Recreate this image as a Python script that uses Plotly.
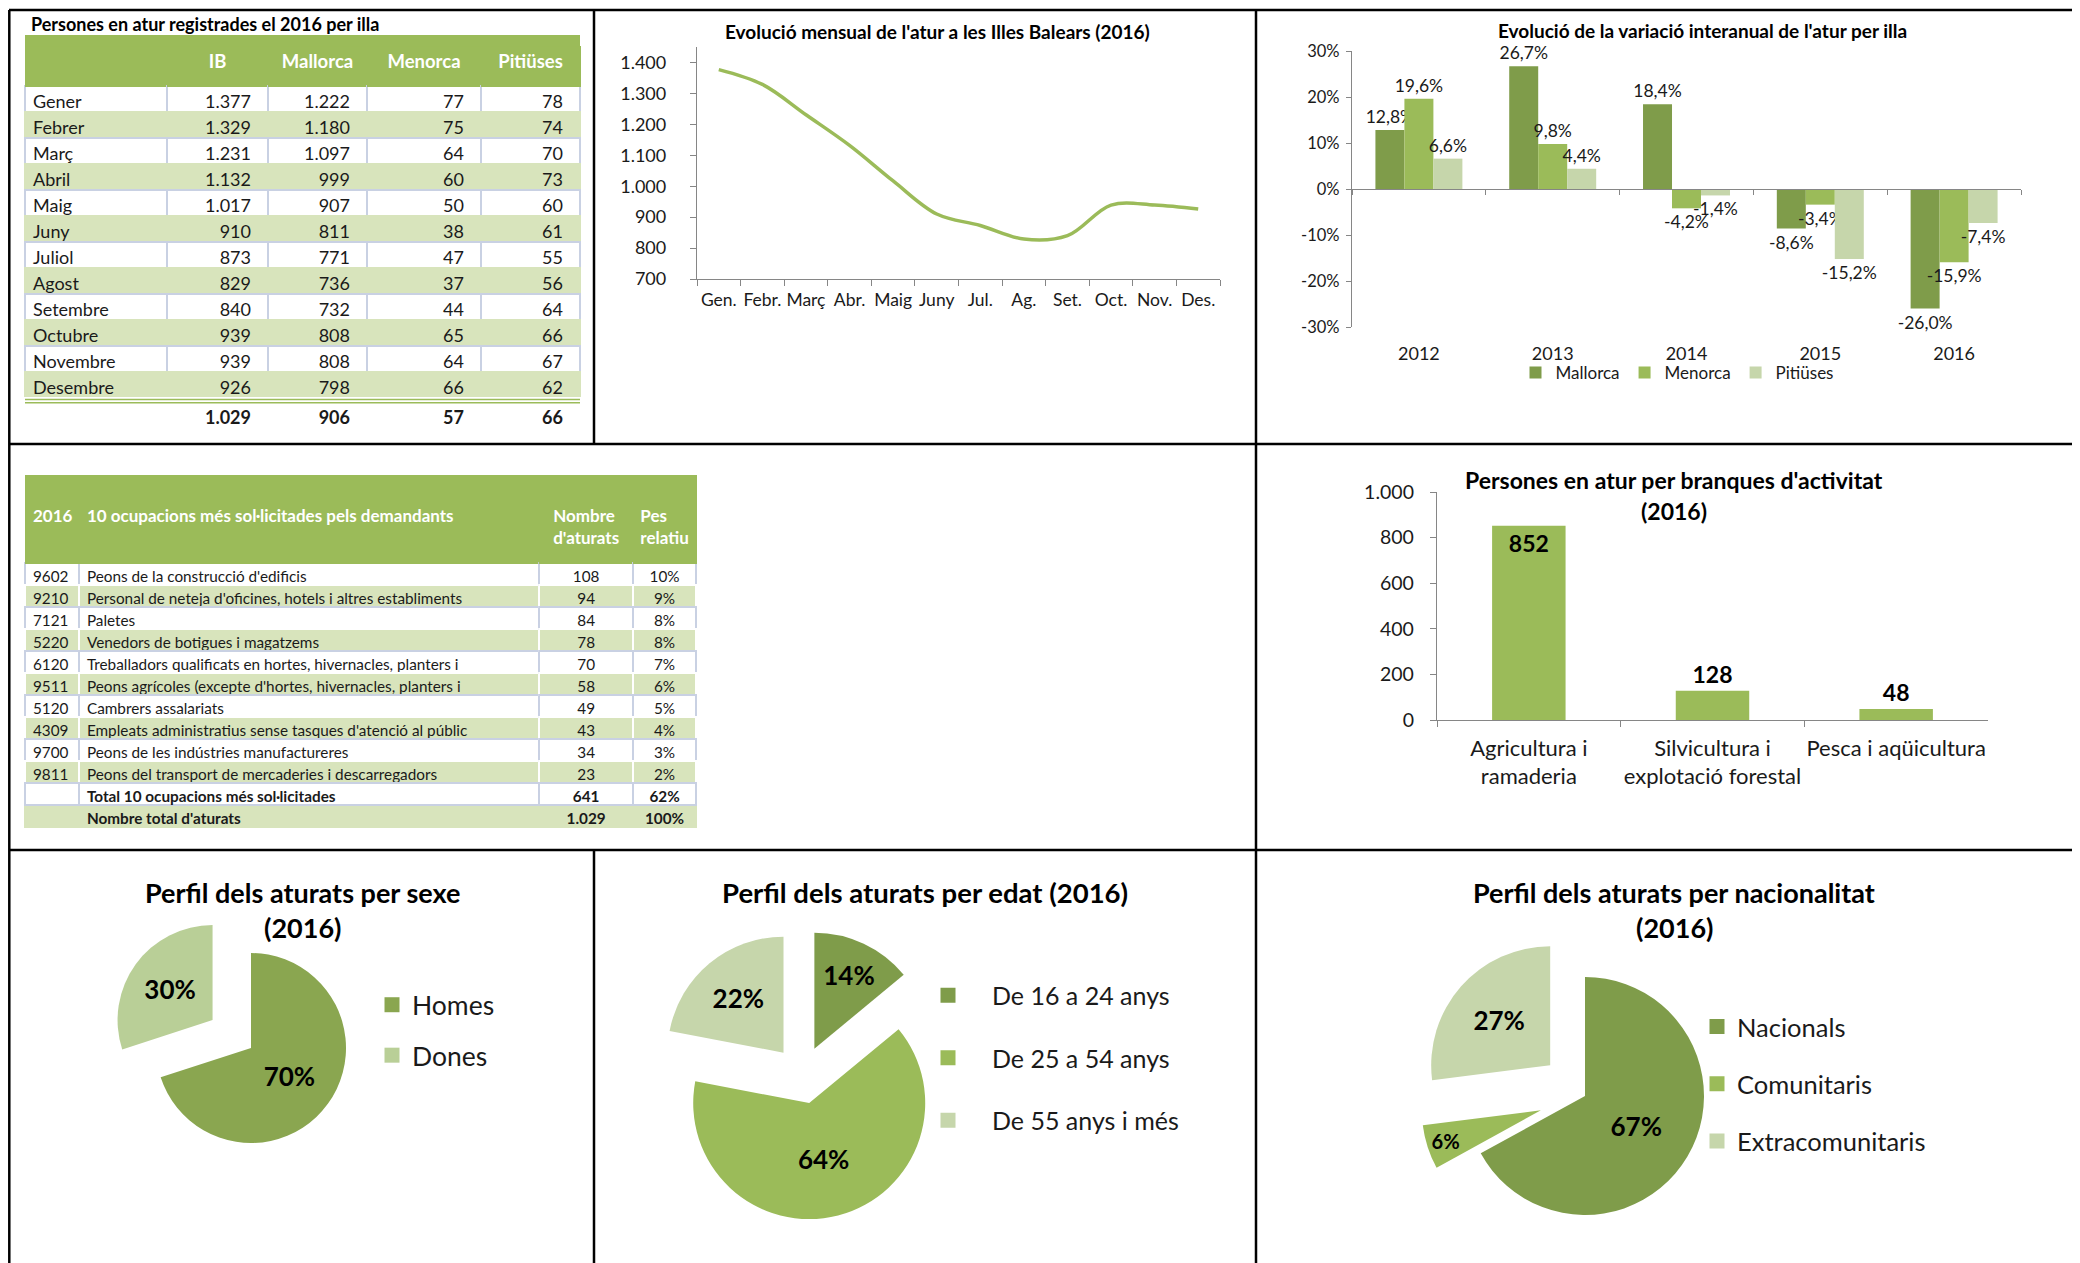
import plotly.graph_objects as go

OFF = 8                      # page body margin of the exported html
W, H = 2080 - OFF, 1263 - OFF


def fx(p):
    return (p - OFF) / W


def fy(p):
    return 1 - (p - OFF) / H


def thousands(n):
    return f"{n:,}".replace(",", ".")


def pct1(v):
    return f"{v:.1f}%".replace(".", ",")


def nb(s):
    return s.replace(" ", "\u00a0")


FONT = "Lato"
INK = "#1a1a1a"
AXIS = "#868686"
DARK = "#7f9c4a"
MID = "#9bbb59"
LIGHT = "#c6d6ab"
SEXE_DARK = "#8aa650"
SEXE_LIGHT = "#b9cf97"
ROW_GREEN = "#d8e4bc"
ROW_LINE = "#c9d1e3"

# ---------------- data ----------------
months = ["Gener", "Febrer", "Març", "Abril", "Maig", "Juny", "Juliol", "Agost",
          "Setembre", "Octubre", "Novembre", "Desembre"]
island_cols = ["IB", "Mallorca", "Menorca", "Pitiüses"]
ib = [1377, 1329, 1231, 1132, 1017, 910, 873, 829, 840, 939, 939, 926]
mallorca = [1222, 1180, 1097, 999, 907, 811, 771, 736, 732, 808, 808, 798]
menorca = [77, 75, 64, 60, 50, 38, 47, 37, 44, 65, 64, 66]
pitiuses = [78, 74, 70, 73, 60, 61, 55, 56, 64, 66, 67, 62]
annual_avg = [1029, 906, 57, 66]

month_ticks = ["Gen.", "Febr.", "Març", "Abr.", "Maig", "Juny", "Jul.", "Ag.",
               "Set.", "Oct.", "Nov.", "Des."]
line_yticks = [700, 800, 900, 1000, 1100, 1200, 1300, 1400]

years = ["2012", "2013", "2014", "2015", "2016"]
var_mallorca = [12.8, 26.7, 18.4, -8.6, -26.0]
var_menorca = [19.6, 9.8, -4.2, -3.4, -15.9]
var_pitiuses = [6.6, 4.4, -1.4, -15.2, -7.4]
var_yticks = [-30, -20, -10, 0, 10, 20, 30]

occ_header = ["2016", "10 ocupacions més sol·licitades pels demandants",
              "Nombre<br>d'aturats", "Pes<br>relatiu"]
occ_codes = ["9602", "9210", "7121", "5220", "6120", "9511", "5120", "4309", "9700", "9811"]
occ_names = [
    "Peons de la construcció d'edificis",
    "Personal de neteja d'oficines, hotels i altres establiments",
    "Paletes",
    "Venedors de botigues i magatzems",
    "Treballadors qualificats en hortes, hivernacles, planters i",
    "Peons agrícoles (excepte d'hortes, hivernacles, planters i",
    "Cambrers assalariats",
    "Empleats administratius sense tasques d'atenció al públic",
    "Peons de les indústries manufactureres",
    "Peons del transport de mercaderies i descarregadors",
]
occ_counts = [108, 94, 84, 78, 70, 58, 49, 43, 34, 23]
occ_share = [10, 9, 8, 8, 7, 6, 5, 4, 3, 2]
occ_total_labels = ["Total 10 ocupacions més sol·licitades", "Nombre total d'aturats"]
occ_total_counts = [641, 1029]
occ_total_share = [62, 100]

branques = ["Agricultura i<br>ramaderia", "Silvicultura i<br>explotació forestal", "Pesca i aqüicultura"]
branques_vals = [852, 128, 48]
branques_yticks = [0, 200, 400, 600, 800, 1000]

sexe_labels = ["Homes", "Dones"]
sexe_vals = [70, 30]
edat_labels = ["De 16 a 24 anys", "De 25 a 54 anys", "De 55 anys i més"]
edat_vals = [14, 64, 22]
nac_labels = ["Nacionals", "Comunitaris", "Extracomunitaris"]
nac_vals = [67, 6, 27]

fig = go.Figure()

# ---------------- Table 1 ----------------
n1 = len(months)
t1_values = [months + [""]]
for series, avg in zip([ib, mallorca, menorca, pitiuses], annual_avg):
    t1_values.append([thousands(v) for v in series] + [f"<b>{thousands(avg)}</b>"])
row_fill1 = ["white" if i % 2 == 0 else ROW_GREEN for i in range(n1)] + ["white"]
row_line1 = [ROW_LINE if i % 2 == 0 else ROW_GREEN for i in range(n1)] + ["white"]

fig.add_trace(go.Table(
    domain=dict(x=[fx(25), fx(580)], y=[fy(445), fy(46)]),
    columnwidth=[142, 101, 99, 114, 99],
    header=dict(values=[""] + island_cols, height=40, fill_color=MID,
                line=dict(color=MID, width=1),
                font=dict(family=FONT, size=18.5, color="white", weight="bold"),
                align="center"),
    cells=dict(values=t1_values, height=26,
               fill_color=[row_fill1] * 5,
               line=dict(color=[row_line1] * 5, width=1.5),
               font=dict(family=FONT, size=18, color=INK),
               align=["left", "right", "right", "right", "right"],
               suffix=["", "\u2002", "\u2002", "\u2002", "\u2002"]),
))

# ---------------- Table 2 ----------------
n2 = len(occ_codes)
row_fill2 = ["white" if i % 2 == 0 else ROW_GREEN for i in range(n2)]
row_line2 = [ROW_LINE if i % 2 == 0 else "white" for i in range(n2)]
t2_top, t2_head, t2_row = 475, 88, 22
t2_split = t2_top + t2_head + n2 * t2_row
T2_FONT = 15.3

fig.add_trace(go.Table(
    domain=dict(x=[fx(25), fx(697)], y=[fy(t2_split + 1), fy(t2_top)]),
    columnwidth=[54, 461, 94, 63],
    header=dict(values=["\u00a0<br>" + nb(h) for h in occ_header], height=t2_head,
                fill_color=MID, line=dict(color=MID, width=1),
                font=dict(family=FONT, size=17, color="white", weight="bold"),
                align=["left", "left", "center", "center"]),
    cells=dict(values=[occ_codes, [nb(s) for s in occ_names],
                       [thousands(v) for v in occ_counts], [f"{v}%" for v in occ_share]],
               height=t2_row,
               fill_color=[row_fill2] * 4,
               line=dict(color=[row_line2] * 4, width=1.5),
               font=dict(family=FONT, size=T2_FONT, color=INK),
               align=["left", "left", "center", "center"]),
))
# totals (two bold rows)
fig.add_trace(go.Table(
    domain=dict(x=[fx(25), fx(697)], y=[fy(t2_split + 2 * t2_row + 12), fy(t2_split)]),
    columnwidth=[54, 461, 94, 63],
    header=dict(values=["", nb(occ_total_labels[0]), thousands(occ_total_counts[0]),
                        f"{occ_total_share[0]}%"],
                height=t2_row, fill_color="white", line=dict(color=ROW_LINE, width=1.5),
                font=dict(family=FONT, size=T2_FONT, color=INK, weight="bold"),
                align=["left", "left", "center", "center"]),
    cells=dict(values=[[""], [nb(occ_total_labels[1])], [thousands(occ_total_counts[1])],
                       [f"{occ_total_share[1]}%"]],
               height=t2_row, fill_color=ROW_GREEN, line=dict(color=ROW_GREEN, width=1.5),
               font=dict(family=FONT, size=T2_FONT, color=INK, weight="bold"),
               align=["left", "left", "center", "center"]),
))

# ---------------- Line chart ----------------
fig.add_trace(go.Scatter(
    x=month_ticks, y=ib, mode="lines", xaxis="x", yaxis="y",
    line=dict(color=MID, width=3.5, shape="spline", smoothing=1.0),
    showlegend=False, hoverinfo="skip",
))

# ---------------- Grouped bars ----------------
for name, vals, col in [("Mallorca", var_mallorca, DARK),
                        ("Menorca", var_menorca, MID),
                        ("Pitiüses", var_pitiuses, LIGHT)]:
    fig.add_trace(go.Bar(
        x=years, y=vals, name=name, xaxis="x2", yaxis="y2",
        marker=dict(color=col, line=dict(width=0)),
        text=[pct1(v) for v in vals], textposition="outside",
        textfont=dict(family=FONT, size=17.5, color=INK),
        constraintext="none", cliponaxis=False, legend="legend",
        hoverinfo="skip",
    ))
# zero-line axis carrier (invisible)
bounds = [i - 0.5 for i in range(len(years) + 1)]
fig.add_trace(go.Scatter(x=[bounds[0], bounds[-1]], y=[0, 0], xaxis="x3", yaxis="y2",
                         mode="lines", line=dict(width=0, color="rgba(0,0,0,0)"),
                         showlegend=False, hoverinfo="skip"))

# ---------------- Branques bars ----------------
fig.add_trace(go.Bar(
    x=branques, y=branques_vals, xaxis="x4", yaxis="y4", width=0.4,
    marker=dict(color=MID, line=dict(width=0)),
    text=[thousands(v) for v in branques_vals],
    textposition=["inside", "outside", "outside"], insidetextanchor="end",
    textfont=dict(family=FONT, size=23, color="black", weight="bold"),
    insidetextfont=dict(family=FONT, size=23, color="black", weight="bold"),
    outsidetextfont=dict(family=FONT, size=23, color="black", weight="bold"),
    constraintext="none", cliponaxis=False, showlegend=False, hoverinfo="skip",
))


# ---------------- Pies ----------------
PIE_TXT = 26


def pie(labels, vals, colors, pull, cx, cy, r):
    half = r * (1 + max(pull))
    return go.Pie(
        labels=labels, values=vals, sort=False, direction="clockwise", rotation=0,
        pull=pull, marker=dict(colors=colors, line=dict(width=0)),
        text=[f"{v}%" for v in vals], textinfo="text", textposition="inside",
        insidetextorientation="horizontal",
        textfont=dict(family=FONT, size=PIE_TXT, color="black", weight="bold"),
        domain=dict(x=[fx(cx - half), fx(cx + half)],
                    y=[max(0, fy(cy + half)), fy(cy - half)]),
        showlegend=False, hoverinfo="skip",
    )


fig.add_trace(pie(sexe_labels, sexe_vals, [SEXE_DARK, SEXE_LIGHT], [0, 0.5], 251, 1048, 95))
fig.add_trace(pie(edat_labels, edat_vals, [DARK, MID, LIGHT], [0.25, 0.25, 0.25], 802, 1075, 116))
fig.add_trace(pie(nac_labels, nac_vals, [DARK, MID, LIGHT], [0, 0.39, 0.39], 1585, 1096, 119))


def legend_items(labels, colors, legend_name):
    for lab, col in zip(labels, colors):
        fig.add_trace(go.Scatter(
            x=[None], y=[None], xaxis="x", yaxis="y", mode="markers", name=lab,
            marker=dict(symbol="square", size=15, color=col),
            legend=legend_name, legendgroup=legend_name + lab, showlegend=True,
            hoverinfo="skip",
        ))


legend_items(sexe_labels, [SEXE_DARK, SEXE_LIGHT], "legend2")
legend_items(edat_labels, [DARK, MID, LIGHT], "legend3")
legend_items(nac_labels, [DARK, MID, LIGHT], "legend4")

# ---------------- Layout ----------------
zero_pos = fy(327) + (0 - var_yticks[0]) / (var_yticks[-1] - var_yticks[0]) * (fy(51) - fy(327))

annotations = []


def title(text, x, y, size, anchor="center"):
    annotations.append(dict(text=f"<b>{text}</b>", x=fx(x), y=fy(y), xref="paper", yref="paper",
                            xanchor=anchor, yanchor="middle", showarrow=False,
                            font=dict(family=FONT, size=size, color="black")))


title("Persones en atur registrades el 2016 per illa", 29, 24, 18, "left")
title("Evolució mensual de l'atur a les Illes Balears (2016)", 937, 32, 19)
title("Evolució de la variació interanual de l'atur per illa", 1702, 30, 19)
title("Persones en atur per branques d'activitat", 1674, 480, 23)
title("(2016)", 1674, 511, 23)
title("Perfil dels aturats per sexe", 302, 892, 27)
title("(2016)", 302, 927, 27)
title("Perfil dels aturats per edat (2016)", 925, 892, 27.5)
title("Perfil dels aturats per nacionalitat", 1674, 892, 27)
title("(2016)", 1674, 927, 27)

shapes = []


def hline(y, x0, x1, color="black", width=2.5):
    shapes.append(dict(type="line", xref="paper", yref="paper", x0=fx(x0), x1=fx(x1),
                       y0=fy(y), y1=fy(y), line=dict(color=color, width=width)))


def vline(x, y0, y1, color="black", width=2.5):
    shapes.append(dict(type="line", xref="paper", yref="paper", x0=fx(x), x1=fx(x),
                       y0=fy(y0), y1=fy(y1), line=dict(color=color, width=width)))


hline(10, 9, 2080)
hline(444, 9, 2080)
hline(850, 9, 2080)
vline(9.3, 10, 1263)
vline(594, 10, 444)
vline(594, 850, 1263)
vline(1256, 10, 1263)
# table 1 header band and double rule
shapes.append(dict(type="rect", xref="paper", yref="paper", x0=fx(25), x1=fx(580),
                   y0=fy(46.5), y1=fy(35), fillcolor=MID, line=dict(width=0)))
hline(399.5, 25, 580, MID, 1.6)
hline(402.8, 25, 580, MID, 1.6)

axis_common = dict(showgrid=False, zeroline=False, linecolor=AXIS, linewidth=1.3,
                   tickcolor=AXIS, fixedrange=True)

legend_common = dict(bgcolor="rgba(0,0,0,0)", borderwidth=0, itemclick=False,
                     itemdoubleclick=False)

fig.update_layout(
    width=W, height=H, margin=dict(l=0, r=0, t=0, b=0),
    paper_bgcolor="white", plot_bgcolor="white", template="none",
    separators=",.", hovermode=False,
    font=dict(family=FONT, color=INK),
    barmode="group", bargap=0.35, bargroupgap=0,
    annotations=annotations, shapes=shapes,
    xaxis=dict(domain=[fx(697), fx(1220)], anchor="y", type="category",
               range=[-0.5, len(month_ticks) - 0.5], tickson="boundaries",
               ticks="outside", ticklen=6, showline=True, tickangle=0,
               tickfont=dict(family=FONT, size=17.5, color=INK),
               ticklabelstandoff=5, **axis_common),
    yaxis=dict(domain=[fy(279), fy(47)], anchor="x", range=[700, 1450],
               tickvals=line_yticks, ticktext=[thousands(v) for v in line_yticks],
               ticks="outside", ticklen=6, showline=True,
               tickfont=dict(family=FONT, size=18, color=INK),
               ticklabelstandoff=20, **axis_common),
    xaxis2=dict(domain=[fx(1352), fx(2021)], anchor="y2", type="category",
                range=[-0.5, len(years) - 0.5], showline=False, ticks="outside",
                ticklen=10, tickangle=0, tickfont=dict(family=FONT, size=18, color=INK),
                showgrid=False, zeroline=False, tickcolor="rgba(0,0,0,0)", fixedrange=True),
    yaxis2=dict(domain=[fy(327), fy(51)], anchor="x2", range=[var_yticks[0], var_yticks[-1]],
                tickvals=var_yticks, ticktext=[f"{v}%" for v in var_yticks],
                ticks="outside", ticklen=5, showline=True,
                tickfont=dict(family=FONT, size=16.5, color=INK),
                ticklabelstandoff=3, **axis_common),
    xaxis3=dict(domain=[fx(1352), fx(2021)], anchor="free", position=zero_pos,
                overlaying="x2", range=[bounds[0], bounds[-1]], tickvals=bounds,
                showticklabels=False, ticks="outside", ticklen=5, showline=True,
                **axis_common),
    xaxis4=dict(domain=[fx(1437), fx(1988)], anchor="y4", type="category",
                range=[-0.5, len(branques) - 0.5], tickson="boundaries",
                ticks="outside", ticklen=6, showline=True, tickangle=0,
                tickfont=dict(family=FONT, size=22, color=INK),
                ticklabelstandoff=8, **axis_common),
    yaxis4=dict(domain=[fy(720), fy(492)], anchor="x4", range=[0, 1000],
                tickvals=branques_yticks, ticktext=[thousands(v) for v in branques_yticks],
                ticks="outside", ticklen=6, showline=True,
                tickfont=dict(family=FONT, size=19.5, color=INK),
                ticklabelstandoff=12, **axis_common),
    legend=dict(orientation="h", x=fx(1677), xanchor="center", y=fy(373), yanchor="middle",
                font=dict(family=FONT, size=17, color=INK), itemwidth=30, **legend_common),
    legend2=dict(x=fx(372), xanchor="left", y=fy(1030), yanchor="middle",
                 font=dict(family=FONT, size=26.5, color=INK), itemwidth=30,
                 tracegroupgap=13, **legend_common),
    legend3=dict(x=fx(904), xanchor="left", y=fy(1058), yanchor="middle",
                 font=dict(family=FONT, size=25, color=INK), itemwidth=78,
                 tracegroupgap=27, **legend_common),
    legend4=dict(x=fx(1697), xanchor="left", y=fy(1084), yanchor="middle",
                 font=dict(family=FONT, size=25.5, color=INK), itemwidth=30,
                 tracegroupgap=21, **legend_common),
)

fig.write_html("out.html")
